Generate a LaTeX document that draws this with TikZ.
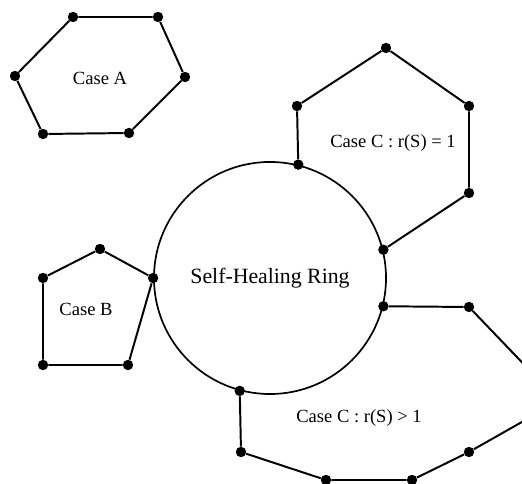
\documentclass[tikz,border=0pt]{standalone}
\usepackage{fontspec}
\setmainfont{Liberation Serif}
\usetikzlibrary{positioning}

\begin{document}
\begin{tikzpicture}[
  x=0.025cm, y=-0.025cm,
  every node/.style={font=\fontsize{13.2}{15}\selectfont},
  dot/.style={circle, fill=black, inner sep=0pt, minimum size=2.6mm},
  ring/.style={
    circle, draw, line width=1.2pt,
    minimum size=5.8cm,
    font=\fontsize{15.5}{18}\selectfont,
  },
  edge/.style={line width=1.4pt},
]
  \clip (0,0) rectangle (522,484);

  % the ring in the middle
  \node[ring] (ring) at (270,278) {Self-Healing Ring};

  % case A: hexagon off the ring
  \node[dot] (a1) at (73,17)   {};
  \node[dot] (a2) at (158,17)  {};
  \node[dot] (a3) at (185,77)  {};
  \node[dot] (a4) at (129,133) {};
  \node[dot] (a5) at (43,134)  {};
  \node[dot] (a6) at (15,76)   {};
  \node (caseA) at (100,78) {Case A};

  % case B: pentagon touching the ring
  \node[dot] (b2) at (ring.180) {};
  \node[dot] (b1) at (100,249) {};
  \node[dot] (b3) at (128,365) {};
  \node[dot] (b4) at (43,365)  {};
  \node[dot] (b5) at (43,278)  {};
  \node (caseB) at (86,309) {Case B};

  % case C, r(S) = 1
  \node[dot] (c5) at (ring.76) {};
  \node[dot] (c4) at (ring.14) {};
  \node[dot] (c6) at (297,106) {};
  \node[dot] (c1) at (386,48)  {};
  \node[dot] (c2) at (469,106) {};
  \node[dot] (c3) at (469,193) {};
  \node (caseC1) at (393,143) {Case C : r(S) = 1};

  % case C, r(S) > 1
  \node[dot] (d1) at (ring.-14)  {};
  \node[dot] (d8) at (ring.-105) {};
  \node[dot] (d2) at (469,307) {};
  \coordinate (d3) at (559,401);
  \node[dot] (d4) at (469,452) {};
  \node[dot] (d5) at (412,480) {};
  \node[dot] (d6) at (326,480) {};
  \node[dot] (d7) at (241,452) {};
  \node (caseC2) at (359,418) {Case C : r(S) > 1};

  \draw[edge] (a1) -- (a2) -- (a3) -- (a4) -- (a5) -- (a6) -- (a1);
  \draw[edge] (b1) -- (b2) -- (b3) -- (b4) -- (b5) -- (b1);
  \draw[edge] (c5) -- (c6) -- (c1) -- (c2) -- (c3) -- (c4);
  \draw[edge] (d1) -- (d2) -- (d3) -- (d4) -- (d5) -- (d6) -- (d7) -- (d8);
\end{tikzpicture}
\end{document}
